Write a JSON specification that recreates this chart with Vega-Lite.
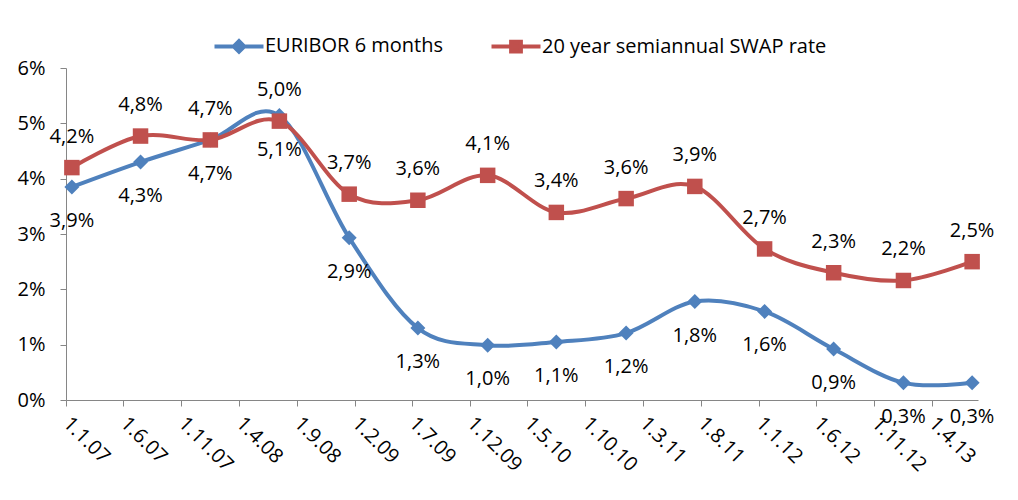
{
  "$schema": "https://vega.github.io/schema/vega-lite/v6.json",
  "width": 912,
  "height": 332,
  "autosize": {"type": "none"},
  "padding": {"left": 66, "top": 68, "right": 40, "bottom": 100},
  "background": "white",
  "config": {
    "locale": {"number": {"decimal": ",", "thousands": ".", "grouping": [3], "currency": ["", " €"]}},
    "font": "Open Sans",
    "view": {"stroke": null},
    "axis": {"labelFont": "Open Sans", "labelFontSize": 20, "labelColor": "#000000", "domainColor": "#868686", "tickColor": "#868686", "grid": false, "title": null}
  },
  "data": {"values": [
    {"date": "2007-01-01", "series": "EURIBOR 6 months", "rate": 0.0385},
    {"date": "2007-07-01", "series": "EURIBOR 6 months", "rate": 0.0430},
    {"date": "2008-01-01", "series": "EURIBOR 6 months", "rate": 0.0470},
    {"date": "2008-07-01", "series": "EURIBOR 6 months", "rate": 0.0514},
    {"date": "2009-01-01", "series": "EURIBOR 6 months", "rate": 0.0293},
    {"date": "2009-07-01", "series": "EURIBOR 6 months", "rate": 0.0130},
    {"date": "2010-01-01", "series": "EURIBOR 6 months", "rate": 0.0099},
    {"date": "2010-07-01", "series": "EURIBOR 6 months", "rate": 0.0105},
    {"date": "2011-01-01", "series": "EURIBOR 6 months", "rate": 0.0121},
    {"date": "2011-07-01", "series": "EURIBOR 6 months", "rate": 0.0178},
    {"date": "2012-01-01", "series": "EURIBOR 6 months", "rate": 0.0160},
    {"date": "2012-07-01", "series": "EURIBOR 6 months", "rate": 0.0092},
    {"date": "2013-01-01", "series": "EURIBOR 6 months", "rate": 0.0031},
    {"date": "2013-07-01", "series": "EURIBOR 6 months", "rate": 0.0031},
    {"date": "2007-01-01", "series": "20 year semiannual SWAP rate", "rate": 0.0420},
    {"date": "2007-07-01", "series": "20 year semiannual SWAP rate", "rate": 0.0477},
    {"date": "2008-01-01", "series": "20 year semiannual SWAP rate", "rate": 0.0470},
    {"date": "2008-07-01", "series": "20 year semiannual SWAP rate", "rate": 0.0504},
    {"date": "2009-01-01", "series": "20 year semiannual SWAP rate", "rate": 0.0372},
    {"date": "2009-07-01", "series": "20 year semiannual SWAP rate", "rate": 0.0361},
    {"date": "2010-01-01", "series": "20 year semiannual SWAP rate", "rate": 0.0406},
    {"date": "2010-07-01", "series": "20 year semiannual SWAP rate", "rate": 0.0339},
    {"date": "2011-01-01", "series": "20 year semiannual SWAP rate", "rate": 0.0364},
    {"date": "2011-07-01", "series": "20 year semiannual SWAP rate", "rate": 0.0386},
    {"date": "2012-01-01", "series": "20 year semiannual SWAP rate", "rate": 0.0273},
    {"date": "2012-07-01", "series": "20 year semiannual SWAP rate", "rate": 0.0230},
    {"date": "2013-01-01", "series": "20 year semiannual SWAP rate", "rate": 0.0216},
    {"date": "2013-07-01", "series": "20 year semiannual SWAP rate", "rate": 0.0250}
  ]},
  "encoding": {
    "x": {
      "field": "date", "type": "temporal", "timeUnit": "utcyearmonth", "bandPosition": 0.5,
      "scale": {"domain": [{"year": 2007, "month": 1, "date": 1, "utc": true}, {"year": 2013, "month": 8, "date": 1, "utc": true}], "nice": false},
      "axis": {
        "values": [
          {"year": 2007, "month": 1, "date": 1, "utc": true},
          {"year": 2007, "month": 6, "date": 1, "utc": true},
          {"year": 2007, "month": 11, "date": 1, "utc": true},
          {"year": 2008, "month": 4, "date": 1, "utc": true},
          {"year": 2008, "month": 9, "date": 1, "utc": true},
          {"year": 2009, "month": 2, "date": 1, "utc": true},
          {"year": 2009, "month": 7, "date": 1, "utc": true},
          {"year": 2009, "month": 12, "date": 1, "utc": true},
          {"year": 2010, "month": 5, "date": 1, "utc": true},
          {"year": 2010, "month": 10, "date": 1, "utc": true},
          {"year": 2011, "month": 3, "date": 1, "utc": true},
          {"year": 2011, "month": 8, "date": 1, "utc": true},
          {"year": 2012, "month": 1, "date": 1, "utc": true},
          {"year": 2012, "month": 6, "date": 1, "utc": true},
          {"year": 2012, "month": 11, "date": 1, "utc": true},
          {"year": 2013, "month": 4, "date": 1, "utc": true}
        ],
        "format": "%-d.%-m.%y",
        "labelAngle": 45, "labelAlign": "left", "labelBaseline": "middle",
        "tickSize": 6, "labelPadding": 14, "labelOverlap": false, "labelBound": false, "labelFlush": false
      }
    },
    "y": {
      "field": "rate", "type": "quantitative",
      "scale": {"domain": [0, 0.06], "nice": false},
      "axis": {"format": ".0%", "values": [0, 0.01, 0.02, 0.03, 0.04, 0.05, 0.06], "tickSize": 6, "labelPadding": 15}
    },
    "color": {
      "field": "series", "type": "nominal",
      "scale": {"domain": ["EURIBOR 6 months", "20 year semiannual SWAP rate"], "range": ["#4F81BD", "#C0504D"]},
      "legend": {
        "orient": "none", "legendX": 163, "legendY": -32, "direction": "horizontal", "title": null,
        "labelFont": "Open Sans", "labelFontSize": 20, "labelColor": "#000000", "labelLimit": 0,
        "symbolSize": 196, "labelOffset": 16, "columnPadding": 39, "symbolStrokeWidth": 4,
        "encode": {"symbols": {"update": {
          "shape": {"signal": "datum.value === 'EURIBOR 6 months' ? 'M-3.5,0H3.5M-0.75,0L0,-0.75L0.75,0L0,0.75Z' : 'M-3.5,0H3.5M-0.7,-0.7H0.7V0.7H-0.7Z'"},
          "stroke": {"signal": "scale('color', datum.value)"},
          "fill": {"signal": "scale('color', datum.value)"},
          "strokeWidth": {"value": 4},
          "opacity": {"value": 1},
          "fillOpacity": {"value": 1}
        }}}
      }
    }
  },
  "layer": [
    {"transform": [{"filter": "datum.series === 'EURIBOR 6 months'"}], "mark": {"type": "line", "interpolate": "cardinal", "strokeWidth": 4}},
    {"transform": [{"filter": "datum.series === 'EURIBOR 6 months'"}], "mark": {"type": "point", "shape": "diamond", "filled": true, "opacity": 1, "size": 225}},
    {"transform": [{"filter": "datum.series !== 'EURIBOR 6 months'"}], "mark": {"type": "line", "interpolate": "cardinal", "strokeWidth": 4}},
    {"transform": [{"filter": "datum.series !== 'EURIBOR 6 months'"}], "mark": {"type": "point", "shape": "square", "filled": true, "opacity": 1, "size": 240}},
    {"transform": [{"filter": "datum.series === 'EURIBOR 6 months'"}], "mark": {"type": "text", "dy": 34, "fontSize": 20, "font": "Open Sans", "color": "#000000"}, "encoding": {"text": {"field": "rate", "type": "quantitative", "format": ".1%"}, "color": {"value": "#000000"}}},
    {"transform": [{"filter": "datum.series !== 'EURIBOR 6 months'"}], "mark": {"type": "text", "dy": -31, "fontSize": 20, "font": "Open Sans", "color": "#000000"}, "encoding": {"text": {"field": "rate", "type": "quantitative", "format": ".1%"}, "color": {"value": "#000000"}}}
  ]
}
